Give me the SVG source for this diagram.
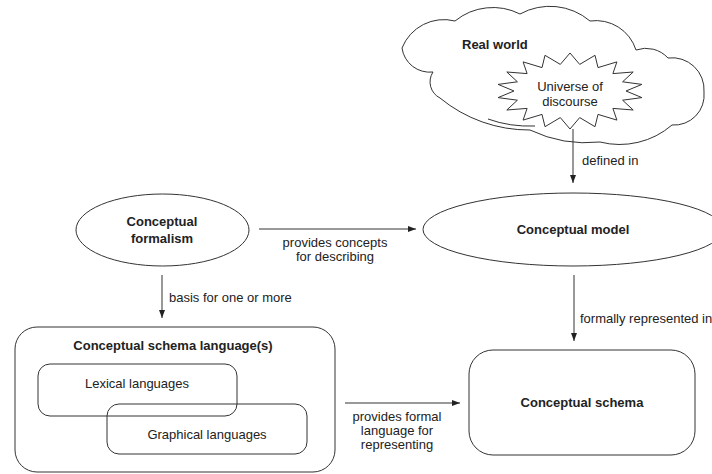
<svg xmlns="http://www.w3.org/2000/svg" width="712" height="474" viewBox="0 0 712 474">
<defs>
<marker id="arr" markerWidth="8" markerHeight="6" refX="8" refY="3" orient="auto" markerUnits="userSpaceOnUse">
<path d="M0,0 L8,3 L0,6 Z" fill="#222"/>
</marker>
</defs>
<style>
.sh{fill:#fff;stroke:#333;stroke-width:1}
.ln{fill:none;stroke:#333;stroke-width:1}
.t{font-family:"Liberation Sans",Arial,sans-serif;font-size:13px;fill:#222}
.b{font-weight:bold}
.m{text-anchor:middle}
</style>
<rect width="712" height="474" fill="#fff"/>
<g id="real-world">
<path class="sh" d="M402,48 A45,45 0 0 1 455,21 A60,60 0 0 1 520,14 A62,62 0 0 1 590,21 A42,42 0 0 1 636,50 A30,30 0 0 1 668,58 A32,32 0 0 1 704,92 A30,30 0 0 1 672,125 A80,80 0 0 1 600,142 A130,130 0 0 1 530,130 A140,140 0 0 1 440,98 A18,18 0 0 1 433,72 A28,28 0 0 1 402,48 Z"/>
<path class="ln" d="M488,119 Q510,127 535,126"/>
<text class="t b" x="462" y="49">Real world</text>
</g>
<g id="universe">
<polygon class="sh" points="570,129 560.3,117.6 545,126.7 542,114.4 523.1,120.1 527.1,108.4 506.8,110 517.4,100.2 498.1,97.6 514,91 498.1,84.4 517.4,81.8 506.8,72 527.1,73.6 523.1,61.9 542,67.6 545,55.3 560.3,64.4 570,53 579.7,64.4 595,55.3 598,67.6 616.9,61.9 612.9,73.6 633.2,72 622.6,81.8 641.9,84.4 626,91 641.9,97.6 622.6,100.2 633.2,110 612.9,108.4 616.9,120.1 598,114.4 595,126.7 579.7,117.6"/>
<text class="t m" x="570" y="91">Universe of</text>
<text class="t m" x="570" y="106">discourse</text>
</g>
<g id="conceptual-formalism">
<ellipse class="sh" cx="162.5" cy="230" rx="86.5" ry="36"/>
<text class="t b m" x="162" y="226">Conceptual</text>
<text class="t b m" x="162" y="243">formalism</text>
</g>
<g id="conceptual-model">
<ellipse class="sh" cx="573" cy="229.5" rx="150" ry="36.5"/>
<text class="t b m" x="573" y="234">Conceptual model</text>
</g>
<g id="schema-languages">
<rect class="sh" x="15" y="327" width="320" height="145" rx="22"/>
<text class="t b m" x="173" y="350">Conceptual schema language(s)</text>
<rect class="ln" x="38" y="364" width="199" height="52" rx="12"/>
<text class="t m" x="137" y="388">Lexical languages</text>
<rect class="ln" x="107" y="404" width="200" height="50" rx="12"/>
<text class="t m" x="207" y="439">Graphical languages</text>
</g>
<g id="conceptual-schema">
<rect class="sh" x="469" y="350" width="226" height="105" rx="24"/>
<text class="t b m" x="582" y="407">Conceptual schema</text>
</g>
<g id="connectors">
<line class="ln" x1="573" y1="129" x2="573" y2="183" marker-end="url(#arr)"/>
<text class="t" x="582" y="165">defined in</text>
<line class="ln" x1="259" y1="229" x2="416" y2="229" marker-end="url(#arr)"/>
<text class="t m" x="335" y="247">provides concepts</text>
<text class="t m" x="335" y="261">for describing</text>
<line class="ln" x1="162" y1="275" x2="162" y2="318" marker-end="url(#arr)"/>
<text class="t" x="169" y="302">basis for one or more</text>
<line class="ln" x1="574" y1="275" x2="574" y2="341" marker-end="url(#arr)"/>
<text class="t" x="580" y="323">formally represented in</text>
<line class="ln" x1="345" y1="403" x2="460" y2="403" marker-end="url(#arr)"/>
<text class="t m" x="397" y="421">provides formal</text>
<text class="t m" x="397" y="435">language for</text>
<text class="t m" x="397" y="449">representing</text>
</g>
</svg>
